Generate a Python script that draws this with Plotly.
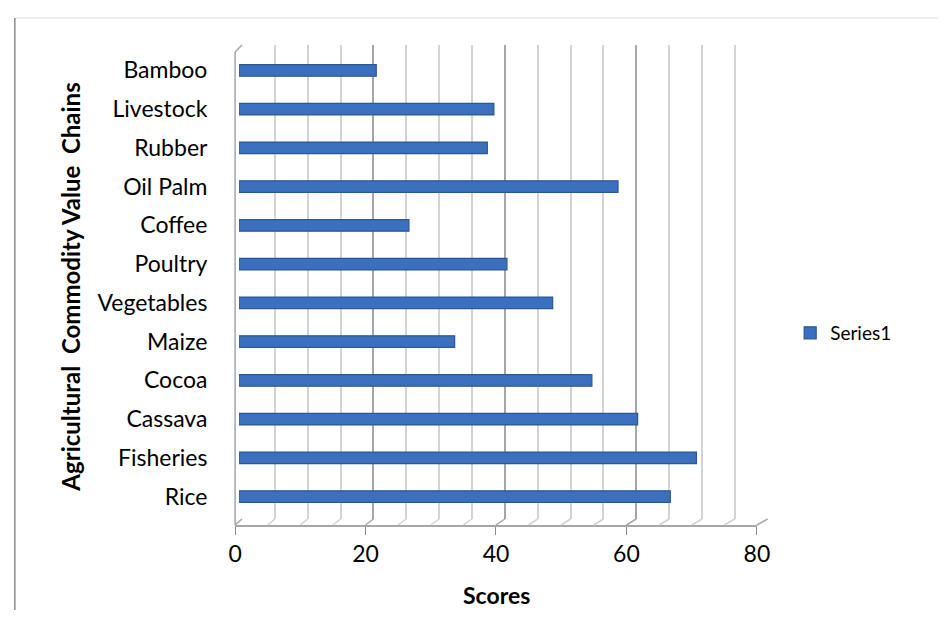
import plotly.graph_objects as go

# Scores per agricultural commodity value chain (bottom to top)
categories = ["Rice", "Fisheries", "Cassava", "Cocoa", "Maize", "Vegetables",
              "Poultry", "Coffee", "Oil Palm", "Rubber", "Livestock", "Bamboo"]
scores = [66, 70, 61, 54, 33, 48, 41, 26, 58, 38, 39, 21]
series_name = "Series1"
x_ticks = [0, 20, 40, 60, 80]

W, H = 951, 637
FONT = "Lato, 'Open Sans', sans-serif"


def px(x):
    return x / W


def py(y):
    return 1 - y / H


# pixel geometry of the 3D box (front plane and back wall)
FRONT_L, FRONT_R, FRONT_B = 233, 766, 525
BACK_L, BACK_R, BACK_T, BACK_B = 240, 777, 45, 519
BAR_L, BAR_R, BAR_T, BAR_B = 237, 771, 51, 516

fig = go.Figure()

# back wall subplot (gridlines only)
fig.add_trace(go.Scatter(x=[None], y=[None], xaxis="x", yaxis="y",
                         showlegend=False, hoverinfo="skip"))

# bars
fig.add_trace(go.Bar(
    x=scores, y=categories, orientation="h", name=series_name,
    xaxis="x2", yaxis="y2", width=0.3,
    marker=dict(color="#3A70BE", line=dict(color="#2B5797", width=1.2)),
))

# front axis carrying the tick labels
fig.add_trace(go.Scatter(x=[None], y=[None], xaxis="x3", yaxis="y3",
                         showlegend=False, hoverinfo="skip"))

shapes = []
# floor: slanted lines joining the front axis to the back wall
for v in range(0, 81, 5):
    fx = FRONT_L + v * (FRONT_R - FRONT_L) / 80
    bx = BACK_L + v * (BACK_R - BACK_L) / 80
    col = "#A6A6A6" if v % 20 == 0 else "#D0D0D0"
    shapes.append(dict(type="line", xref="paper", yref="paper",
                       x0=px(fx), y0=py(FRONT_B), x1=px(bx), y1=py(BACK_B),
                       line=dict(color=col, width=1.5)))
# left side wall edge
shapes.append(dict(type="line", xref="paper", yref="paper",
                   x0=px(FRONT_L), y0=py(FRONT_B), x1=px(FRONT_L), y1=py(BACK_T + 7),
                   line=dict(color="#A6A6A6", width=1.5)))
shapes.append(dict(type="line", xref="paper", yref="paper",
                   x0=px(FRONT_L), y0=py(BACK_T + 7), x1=px(BACK_L), y1=py(BACK_T),
                   line=dict(color="#A6A6A6", width=1.5)))
# chart area border (top and left)
shapes.append(dict(type="line", xref="paper", yref="paper",
                   x0=px(8), y0=py(18), x1=1, y1=py(18),
                   line=dict(color="#D9D9D9", width=1)))
shapes.append(dict(type="line", xref="paper", yref="paper",
                   x0=px(8), y0=py(18), x1=px(8), y1=py(610),
                   line=dict(color="#8C8C8C", width=1.5)))

annotations = [
    dict(text="<b>Agricultural  Commodity Value  Chains</b>", xref="paper", yref="paper",
         x=px(65), y=py(287), textangle=-90, showarrow=False,
         font=dict(family=FONT, size=24, color="black"),
         xanchor="center", yanchor="middle"),
    dict(text="<b>Scores</b>", xref="paper", yref="paper",
         x=px(500), y=py(595), showarrow=False,
         font=dict(family=FONT, size=23, color="black"),
         xanchor="center", yanchor="middle"),
]

fig.update_layout(
    width=W, height=H,
    margin=dict(l=0, r=0, t=0, b=0),
    paper_bgcolor="white", plot_bgcolor="rgba(0,0,0,0)",
    font=dict(family=FONT, size=23, color="black"),
    shapes=shapes, annotations=annotations,
    xaxis=dict(domain=[px(BACK_L), px(BACK_R)], range=[0, 80], anchor="y",
               showgrid=True, dtick=20, gridcolor="#A6A6A6", gridwidth=2,
               minor=dict(dtick=5, showgrid=True, gridcolor="#D3D3D3", gridwidth=2),
               showticklabels=False, zeroline=False, showline=False, fixedrange=True),
    yaxis=dict(domain=[py(BACK_B), py(BACK_T)], range=[0, 1], anchor="x",
               visible=False, fixedrange=True),
    xaxis2=dict(domain=[px(BAR_L), px(BAR_R)], range=[0, 80], anchor="y2",
                showgrid=False, showticklabels=False, zeroline=False, showline=False,
                fixedrange=True),
    yaxis2=dict(domain=[py(BAR_B), py(BAR_T)], range=[-0.5, 11.5], anchor="x2",
                categoryorder="array", categoryarray=categories,
                showgrid=False, showline=False, zeroline=False,
                ticks="outside", ticklen=26, tickcolor="rgba(0,0,0,0)",
                tickfont=dict(family=FONT, size=23, color="black"), fixedrange=True),
    xaxis3=dict(domain=[px(FRONT_L), px(FRONT_R)], range=[0, 80], anchor="y3",
                tickvals=x_ticks, ticks="outside", ticklen=8, tickcolor="#8C8C8C",
                showline=True, linecolor="#A6A6A6", linewidth=1.5,
                showgrid=False, zeroline=False,
                tickfont=dict(family=FONT, size=23, color="black"), fixedrange=True),
    yaxis3=dict(domain=[py(FRONT_B), py(FRONT_B - 4)], range=[0, 1], anchor="x3",
                visible=False, fixedrange=True),
    showlegend=True,
    legend=dict(x=px(800), y=py(333), xanchor="left", yanchor="middle",
                font=dict(family=FONT, size=19, color="black"),
                bgcolor="rgba(0,0,0,0)", itemwidth=30),
)

fig.write_html("out.html")
